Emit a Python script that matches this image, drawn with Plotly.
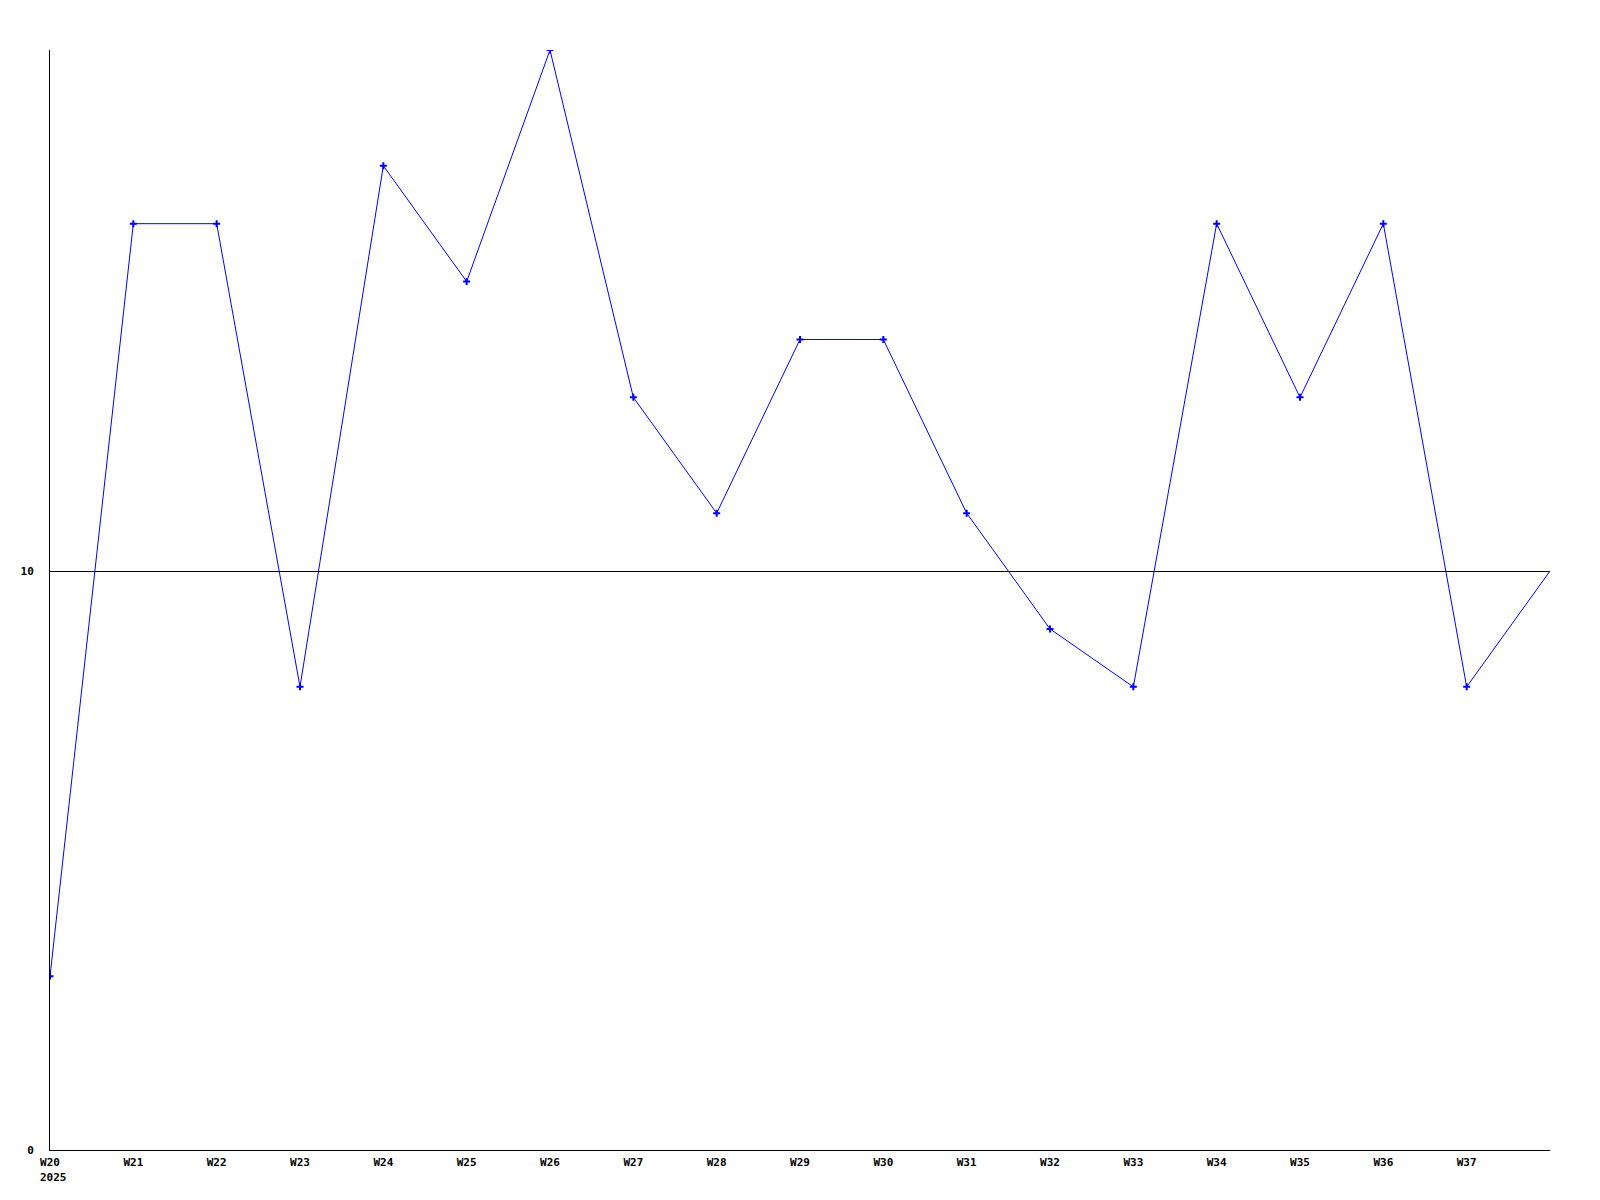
import plotly.graph_objects as go

weeks = ["W20", "W21", "W22", "W23", "W24", "W25", "W26", "W27", "W28",
         "W29", "W30", "W31", "W32", "W33", "W34", "W35", "W36", "W37"]
values = [3, 16, 16, 8, 17, 15, 19, 13, 11, 14, 14, 11, 9, 8, 16, 13, 16, 8]
last_value = 10  # point at W38 (right edge, no marker)
year_label = "2025"
y_ticks = [0, 10]

x_idx = list(range(len(weeks)))
font = dict(family="DejaVu Sans Mono", size=11, color="black", weight="bold")

fig = go.Figure()
fig.add_trace(go.Scatter(
    x=x_idx + [len(weeks)], y=values + [last_value],
    mode="lines", line=dict(color="#0000ff", width=1), hoverinfo="skip",
))
fig.add_trace(go.Scatter(
    x=x_idx, y=values, mode="markers",
    marker=dict(color="#0000ff", size=5, symbol="cross-thin",
                line=dict(color="#0000ff", width=2)),
))

fig.update_layout(
    width=1600, height=1200,
    margin=dict(l=42, r=58, t=42, b=58),
    paper_bgcolor="white", plot_bgcolor="white",
    showlegend=False,
    xaxis=dict(range=[0, len(weeks)], tickvals=x_idx, ticktext=weeks,
               showgrid=False, zeroline=False, showline=True,
               linecolor="black", linewidth=1, ticks="", tickfont=font,
               ticklabelstandoff=2),
    yaxis=dict(range=[0, 19], tickvals=y_ticks, ticktext=[str(v) for v in y_ticks],
               showgrid=True, gridcolor="black", gridwidth=1, zeroline=False,
               showline=True, linecolor="black", linewidth=1, ticks="",
               tickfont=font, ticklabelstandoff=13),
    annotations=[dict(x=0, y=0, xref="x", yref="paper", text=year_label,
                      showarrow=False, xanchor="left", yanchor="top",
                      xshift=-12, yshift=-19, font=font)],
)

fig.write_html("out.html")
